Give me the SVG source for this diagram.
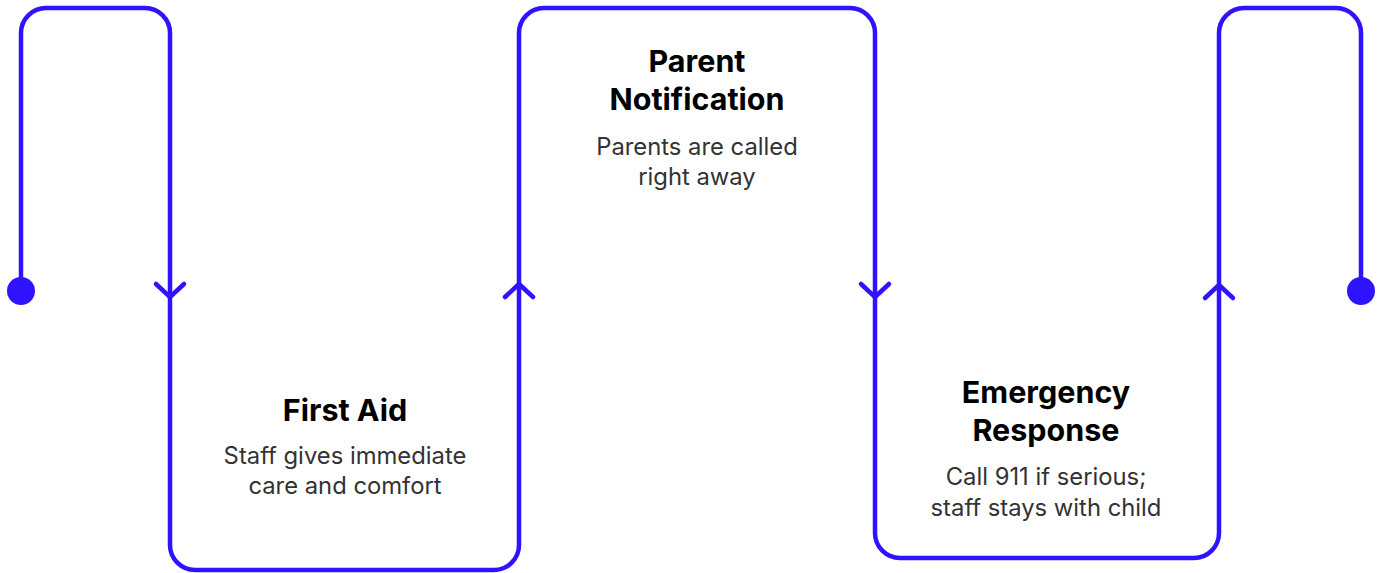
<svg xmlns="http://www.w3.org/2000/svg" width="1381" height="573" viewBox="0 0 1381 573">
<style>
.line{fill:none;stroke:#2f13ff;stroke-width:4.5;stroke-linecap:round;stroke-linejoin:round}
.dot{fill:#2f13ff}
.title{font-family:Inter,"Liberation Sans",sans-serif;font-weight:700;font-size:30.5px;fill:#000;text-anchor:middle}
.body{font-family:Inter,"Liberation Sans",sans-serif;font-weight:400;font-size:23.8px;fill:#333;text-anchor:middle}
</style>
<rect width="1381" height="573" fill="#fff"/>
<g id="connectors">
<path class="line" d="M21,291 V33 A25,25 0 0 1 46,8 H145 A25,25 0 0 1 170,33 V545 A25,25 0 0 0 195,570 H494 A25,25 0 0 0 519,545 V33 A25,25 0 0 1 544,8 H850 A25,25 0 0 1 875,33 V533 A25,25 0 0 0 900,558 H1194 A25,25 0 0 0 1219,533 V33 A25,25 0 0 1 1244,8 H1336 A25,25 0 0 1 1361,33 V291"/>
<path class="line" d="M156,284 L170,297 L184,284"/>
<path class="line" d="M505,297 L519,284 L533,297"/>
<path class="line" d="M861,284 L875,297 L889,284"/>
<path class="line" d="M1205,298 L1219,285 L1233,298"/>
<circle class="dot" cx="21" cy="291" r="14"/>
<circle class="dot" cx="1361" cy="291" r="14"/>
</g>
<g id="node-first-aid">
<text class="title" x="345" y="421">First Aid</text>
<text class="body" x="345" y="464">Staff gives immediate</text>
<text class="body" x="345" y="494">care and comfort</text>
</g>
<g id="node-parent-notification">
<text class="title" x="697" y="72">Parent</text>
<text class="title" x="697" y="110">Notification</text>
<text class="body" x="697" y="155">Parents are called</text>
<text class="body" x="697" y="185">right away</text>
</g>
<g id="node-emergency-response">
<text class="title" x="1046" y="403">Emergency</text>
<text class="title" x="1046" y="441">Response</text>
<text class="body" x="1046" y="485">Call 911 if serious;</text>
<text class="body" x="1046" y="516">staff stays with child</text>
</g>
</svg>
